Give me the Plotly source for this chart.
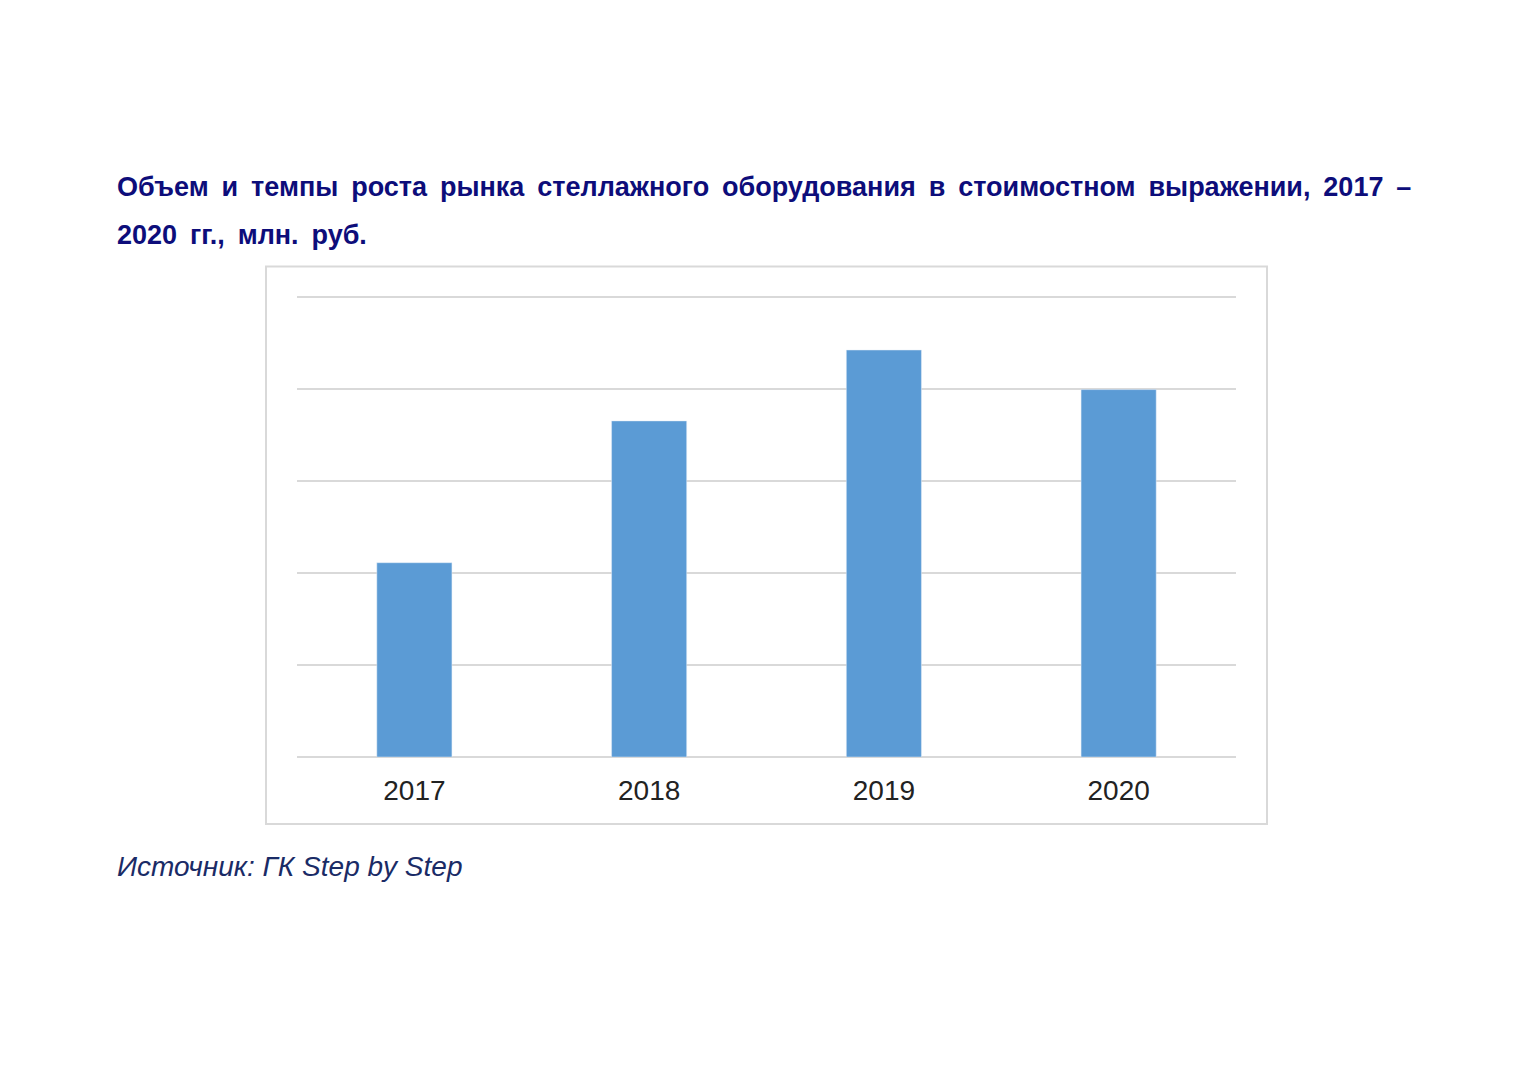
import plotly.graph_objects as go

years = ["2017", "2018", "2019", "2020"]
values = [2.11, 3.65, 4.42, 3.99]
title_line1 = "Объем и темпы роста рынка стеллажного оборудования в стоимостном выражении, 2017 –"
title_line2 = "2020 гг., млн. руб."
source_text = "Источник: ГК Step by Step"

W, H = 1532, 1083
YMAX = 5.05
L, R, B = 297, 1236, 757
T = B - 460 * YMAX / 5.0

def px_x(p):
    return (p - L) / (R - L)

def px_y(p):
    return (B - p) / (B - T)

def spaced(s):
    return s.replace(" ", " \u2009")

fig = go.Figure()
fig.add_trace(go.Bar(x=years, y=values, marker_color="#5b9bd5", width=0.32, hoverinfo="x+y"))

fig.update_layout(
    width=W, height=H,
    margin=dict(l=L, r=W - R, t=T, b=H - B, pad=0),
    paper_bgcolor="white", plot_bgcolor="white",
    showlegend=False,
    font=dict(family="Liberation Sans, Arial, sans-serif"),
    xaxis=dict(
        showgrid=False, showline=False, zeroline=False,
        tickfont=dict(size=28, color="#222222"),
        ticks="", ticklabelstandoff=14,
    ),
    yaxis=dict(
        range=[0, YMAX], tickvals=[0, 1, 2, 3, 4, 5], showticklabels=False,
        showgrid=True, gridcolor="#d9d9d9", gridwidth=2,
        zeroline=True, zerolinecolor="#d9d9d9", zerolinewidth=2,
        showline=False, fixedrange=True,
    ),
)

fig.add_shape(type="rect", xref="paper", yref="paper",
              x0=px_x(266), x1=px_x(1267), y0=px_y(824), y1=px_y(267),
              line=dict(color="#d9d9d9", width=2), fillcolor="rgba(0,0,0,0)", layer="below")

fig.add_annotation(text="<b>" + spaced(title_line1) + "</b>", xref="paper", yref="paper",
                   x=px_x(115), y=px_y(187), xanchor="left", yanchor="middle", showarrow=False,
                   font=dict(size=27, color="#0d0d7a", family="Liberation Sans, Arial, sans-serif"))
fig.add_annotation(text="<b>" + spaced(title_line2) + "</b>", xref="paper", yref="paper",
                   x=px_x(115), y=px_y(235), xanchor="left", yanchor="middle", showarrow=False,
                   font=dict(size=27, color="#0d0d7a", family="Liberation Sans, Arial, sans-serif"))
fig.add_annotation(text="<i>" + source_text + "</i>", xref="paper", yref="paper",
                   x=px_x(115), y=px_y(866), xanchor="left", yanchor="middle", showarrow=False,
                   font=dict(size=28, color="#1a2b66", family="Liberation Sans, Arial, sans-serif"))

fig.write_html("out.html")
